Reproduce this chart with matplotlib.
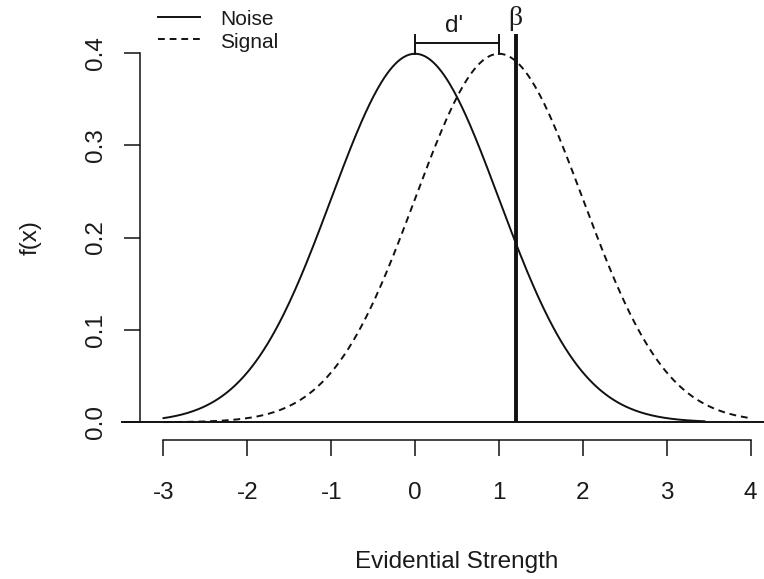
import numpy as np
import matplotlib
matplotlib.use("Agg")
import matplotlib.pyplot as plt

plt.rcParams['font.family'] = ['Liberation Sans', 'DejaVu Sans']

# Data
series_names = ["Noise", "Signal"]
series_means = [0.0, 1.0]
series_sds = [1.0, 1.0]
series_from = [-3.0, -3.0]
series_to = [3.45, 4.0]
criterion = 1.2
x_ticks = [-3, -2, -1, 0, 1, 2, 3, 4]
x_tick_labels = ["-3", "-2", "-1", "0", "1", "2", "3", "4"]
y_ticks = [0.0, 0.1, 0.2, 0.3, 0.4]
y_tick_labels = ["0.0", "0.1", "0.2", "0.3", "0.4"]


def dnorm(x, m, s):
    return np.exp(-0.5 * ((x - m) / s) ** 2) / (s * np.sqrt(2 * np.pi))


W, H = 764, 579
fig = plt.figure(figsize=(W / 100, H / 100), dpi=100)
left_px, right_px, top_px, bottom_px = 140, 774, 38, 437
ax = fig.add_axes([left_px / W, (H - bottom_px) / H,
                   (right_px - left_px) / W, (bottom_px - top_px) / H])
ax.set_xlim(-3.28, 4.28)
ax.set_ylim(-0.016, 0.416)

fs = 17.5
tc = '#1a1a1a'
styles = [dict(color='#111111', lw=1.4, linestyle='-'),
          dict(color='#111111', lw=1.4, linestyle=(0, (3.5, 2.5)))]
for name, m, s, a, b, st in zip(series_names, series_means, series_sds,
                                series_from, series_to, styles):
    xs = np.linspace(a, b, 400)
    ax.plot(xs, dnorm(xs, m, s), clip_on=False, **st)

# baseline
ax.plot([-3.5, 4.3], [0, 0], color='#111111', lw=1.4, clip_on=False)

# criterion line
peak = dnorm(series_means[0], series_means[0], series_sds[0])
ax.plot([criterion, criterion], [0, 0.42], color='#111111', lw=2.8,
        clip_on=False, solid_capstyle='butt')
ax.text(criterion, 0.4375, "β", ha='center', va='center', fontsize=20,
        color=tc, family=['Liberation Serif', 'DejaVu Serif'], clip_on=False)

# d' bracket
m0, m1 = series_means
ax.plot([m0, m1], [0.4105, 0.4105], color='#111111', lw=1.4, clip_on=False)
for mm in (m0, m1):
    ax.plot([mm, mm], [peak, 0.4195], color='#111111', lw=1.4, clip_on=False)
ax.text((m0 + m1) / 2 - 0.03, 0.4295, "d'", ha='center', va='center',
        fontsize=fs, color=tc, clip_on=False)

# legend (manual, like R's legend without box)
lg_fs = 15
leg_y_line = [0.439, 0.4147]
leg_y_text = [0.4362, 0.4112]
for name, st, yl, yt in zip(series_names, styles, leg_y_line, leg_y_text):
    ax.plot([-3.06, -2.56], [yl, yl], clip_on=False, **st)
    ax.text(-2.32, yt, name, ha='left', va='center', fontsize=lg_fs,
            color=tc, clip_on=False)

# axes styling
for sp in ['top', 'right']:
    ax.spines[sp].set_visible(False)
ax.spines['left'].set_bounds(0, 0.4)
ax.spines['bottom'].set_bounds(-3, 4)
ax.spines['bottom'].set_position(('outward', 2))
ax.spines['left'].set_linewidth(1.1)
ax.spines['bottom'].set_linewidth(1.1)
ax.spines['left'].set_color('#111111')
ax.spines['bottom'].set_color('#111111')

ax.set_xticks(x_ticks)
ax.set_xticklabels(x_tick_labels)
ax.set_yticks(y_ticks)
ax.set_yticklabels(y_tick_labels, rotation=90, va='center')
ax.tick_params(axis='both', length=11.5, width=1.1, labelsize=fs,
               color='#111111', labelcolor=tc)
ax.tick_params(axis='x', pad=19)
ax.tick_params(axis='y', pad=12)

ax.set_xlabel("Evidential Strength", fontsize=fs, labelpad=34, color=tc)
ax.set_ylabel("f(x)", fontsize=fs, color=tc)
ax.yaxis.set_label_coords((31 - left_px) / (right_px - left_px), 0.5)
ax.yaxis.label.set_verticalalignment('center')

fig.savefig("out.png", dpi=100)
